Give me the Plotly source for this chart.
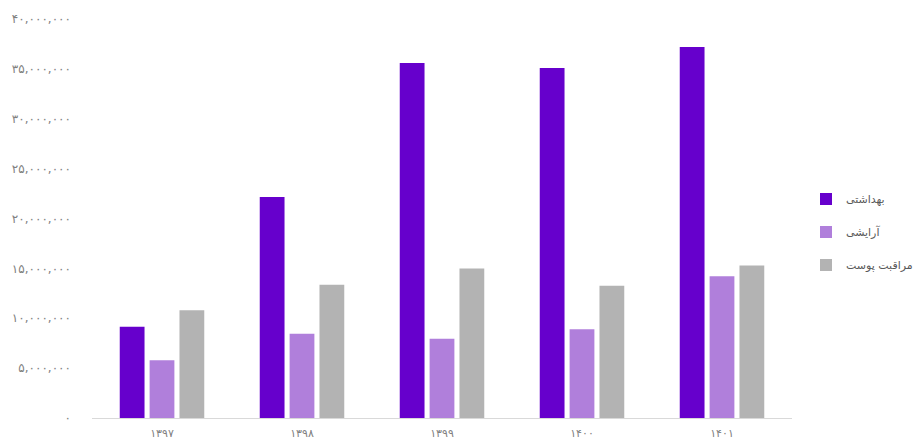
import plotly.graph_objects as go

years = ["1397", "1398", "1399", "1400", "1401"]
series_names = ["بهداشتی", "آرایشی", "مراقبت پوست"]
behdashti = [9_150_000, 22_150_000, 35_600_000, 35_100_000, 37_200_000]
arayeshi = [5_800_000, 8_450_000, 7_950_000, 8_900_000, 14_200_000]
moraghebat = [10_800_000, 13_350_000, 15_000_000, 13_250_000, 15_300_000]
y_ticks = [0, 5_000_000, 10_000_000, 15_000_000, 20_000_000,
           25_000_000, 30_000_000, 35_000_000, 40_000_000]

colors = ["#6600CC", "#B07FDB", "#B3B3B3"]

FA_DIGITS = str.maketrans("0123456789", "۰۱۲۳۴۵۶۷۸۹")


def fa(s):
    return str(s).translate(FA_DIGITS)


year_labels = [fa(y) for y in years]
tick_labels = [fa(f"{v:,}") for v in y_ticks]

W, H = 915, 446

fig = go.Figure()
for name, vals, col in zip(series_names, [behdashti, arayeshi, moraghebat], colors):
    fig.add_trace(go.Bar(
        x=year_labels, y=vals, name=name, legendgroup=name,
        marker=dict(color=col, line=dict(width=0)),
        hovertemplate="%{x}: %{y:,}<extra>" + name + "</extra>",
    ))

fig.update_layout(
    width=W, height=H,
    margin=dict(l=0, r=0, t=19, b=28, autoexpand=False),
    paper_bgcolor="white", plot_bgcolor="white",
    barmode="group", bargap=0.36, bargroupgap=0.17,
    font=dict(family="DejaVu Sans", color="#808080", size=10),
    legend=dict(
        x=806 / W, y=0.466, xanchor="left", yanchor="middle",
        font=dict(size=11, color="#595959"),
        traceorder="grouped", tracegroupgap=14, itemwidth=30,
    ),
    xaxis=dict(
        domain=[92 / W, 792 / W],
        showgrid=False, showline=True, linecolor="#D9D9D9", linewidth=1,
        ticks="", ticklabelstandoff=5, tickfont=dict(size=11, color="#808080"),
    ),
    yaxis=dict(
        range=[0, 40_000_000], tickvals=y_ticks, ticktext=tick_labels,
        showgrid=False, zeroline=False, showline=False, ticks="",
        ticklabelstandoff=20, tickfont=dict(size=12, color="#808080"),
    ),
)

fig.write_html("out.html")
